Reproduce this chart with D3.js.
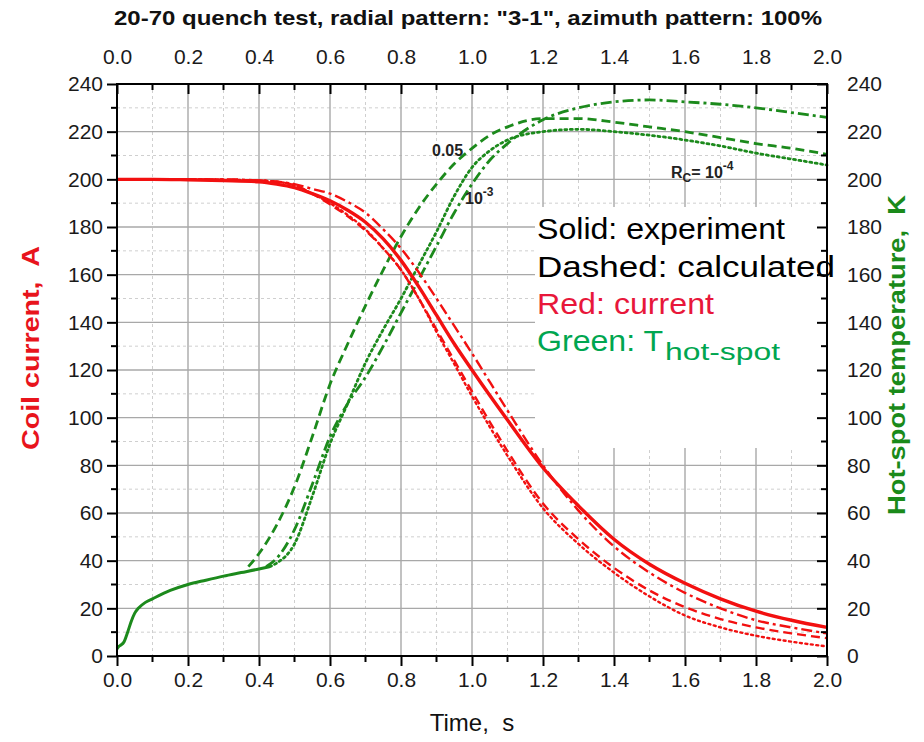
<!DOCTYPE html>
<html>
<head>
<meta charset="utf-8">
<script src="https://cdn.jsdelivr.net/npm/d3@7/dist/d3.min.js"></script>
<style>
  html, body { margin: 0; padding: 0; background: #fff; }
  svg { display: block; font-family: "Liberation Sans", Arial, sans-serif; }
</style>
</head>
<body>
<svg id="chart" width="924" height="742"></svg>
<script>
// ---------------- DATA ----------------
const titleText = '20-70 quench test, radial pattern: "3-1", azimuth pattern: 100%';
const xTicks = [0, 0.2, 0.4, 0.6, 0.8, 1.0, 1.2, 1.4, 1.6, 1.8, 2.0];
const yTicks = [0, 20, 40, 60, 80, 100, 120, 140, 160, 180, 200, 220, 240];

// Coil current (A): time grid shared by the red curves
const tCurrent = [0, 0.1, 0.2, 0.3, 0.4, 0.45, 0.5, 0.55, 0.6, 0.65, 0.7, 0.75, 0.8, 0.85, 0.9, 0.95, 1.0, 1.1, 1.2, 1.3, 1.4, 1.5, 1.6, 1.7, 1.8, 1.9, 2.0];
const currentExp     = [200, 200, 199.8, 199.5, 199, 198, 196.5, 194, 191, 187, 182, 175, 166, 155, 143, 131, 120, 99, 79, 63, 49, 38.5, 30.5, 24, 18.8, 15, 12];
const currentDashDot = [200, 200, 200, 200, 199.5, 199, 198, 196, 194, 190.5, 186, 179, 171, 161, 150, 138.5, 127, 103, 80, 61, 46, 35, 26.5, 20, 15, 12, 9.5];
const currentDashed  = [200, 200, 200, 199.8, 199.5, 199, 197.5, 194, 189.5, 184.5, 178.5, 171, 162, 150, 137, 124, 111, 86, 64, 49, 37, 27.5, 20.5, 15.5, 12, 9.5, 7.5];
const currentDotted  = [200, 200, 200, 199.8, 199.5, 199, 197.5, 194, 190, 185, 179, 171, 162, 150, 136, 122.5, 109, 84, 62, 47, 35, 25, 17, 12, 8.5, 6, 4];

// Hot-spot temperature (K)
const tTempExp = [0, 0.005, 0.01, 0.02, 0.03, 0.04, 0.05, 0.06, 0.08, 0.1, 0.15, 0.2, 0.25, 0.3, 0.35, 0.4, 0.43];
const tempExp  = [3, 4, 4.5, 6, 10, 14.5, 18, 20, 22.5, 24, 27.5, 30, 31.8, 33.5, 35, 36.5, 37.5];

const tTempDashed = [0.37, 0.4, 0.45, 0.5, 0.55, 0.6, 0.65, 0.7, 0.75, 0.8, 0.85, 0.9, 0.95, 1.0, 1.05, 1.1, 1.2, 1.3, 1.4, 1.5, 1.6, 1.7, 1.8, 1.9, 2.0];
const tempDashed  = [37.5, 43, 55, 71, 92, 114, 131, 147, 162, 176, 188, 198, 206.5, 213, 218.5, 222, 225.5, 225.5, 224, 222, 220, 217.5, 215, 213, 210.5];

const tTempDotted = [0.43, 0.45, 0.5, 0.55, 0.6, 0.65, 0.7, 0.75, 0.8, 0.85, 0.9, 0.95, 1.0, 1.05, 1.1, 1.2, 1.3, 1.4, 1.5, 1.6, 1.7, 1.8, 1.9, 2.0];
const tempDotted  = [37.5, 39, 47, 67, 89, 106, 123, 137, 150, 164, 178, 193, 205, 212, 216.5, 220, 221, 220, 218.5, 216.5, 214, 211, 208.5, 206];

const tTempDashDot = [0.42, 0.45, 0.5, 0.55, 0.6, 0.65, 0.7, 0.75, 0.8, 0.85, 0.9, 0.95, 1.0, 1.05, 1.1, 1.2, 1.3, 1.4, 1.5, 1.6, 1.7, 1.8, 1.9, 2.0];
const tempDashDot  = [37.5, 41, 53, 72, 92, 106, 117, 130, 144, 158, 172, 186, 198, 208, 215, 225, 230, 232.5, 233.3, 232.5, 231.5, 230, 228, 226];

// ---------------- LAYOUT ----------------
const svg = d3.select("#chart");
const L = 117, R = 827, T = 84, B = 656;
const x = d3.scaleLinear().domain([0, 2]).range([L, R]);
const yI = d3.scaleLinear().domain([0, 240]).range([B, T]);
const yT = d3.scaleLinear().domain([0, 240]).range([B, T]);

const RED = "#f21010", GREEN = "#1c8a1c";

// grid
const minorX = d3.range(0.1, 2.0, 0.2);
const minorY = d3.range(10, 240, 20);
const grid = svg.append("g");
grid.selectAll(".mx").data(minorX).join("line")
  .attr("x1", d => x(d)).attr("x2", d => x(d)).attr("y1", T).attr("y2", B)
  .attr("stroke", "#cfcfcf").attr("stroke-width", 1).attr("stroke-dasharray", "3,3");
grid.selectAll(".my").data(minorY).join("line")
  .attr("x1", L).attr("x2", R).attr("y1", d => yI(d)).attr("y2", d => yI(d))
  .attr("stroke", "#cfcfcf").attr("stroke-width", 1).attr("stroke-dasharray", "3,3");
grid.selectAll(".Mx").data(xTicks.slice(1, -1)).join("line")
  .attr("x1", d => x(d)).attr("x2", d => x(d)).attr("y1", T).attr("y2", B)
  .attr("stroke", "#a8a8a8").attr("stroke-width", 1.4);
grid.selectAll(".My").data(yTicks.slice(1, -1)).join("line")
  .attr("x1", L).attr("x2", R).attr("y1", d => yI(d)).attr("y2", d => yI(d))
  .attr("stroke", "#a8a8a8").attr("stroke-width", 1.4);

// legend box (white, covers the grid)
svg.append("rect").attr("x", 535).attr("y", 207).attr("width", R - 535).attr("height", 241).attr("fill", "#fff");

// lines
const plot = svg.append("g");
function drawLine(ts, vs, ys, color, dash, width) {
  const pts = ts.map((t, i) => [t, vs[i]]);
  plot.append("path").datum(pts)
    .attr("fill", "none").attr("stroke", color).attr("stroke-width", width)
    .attr("stroke-dasharray", dash).attr("stroke-linecap", dash === "2,3.5" ? "round" : "butt")
    .attr("d", d3.line().x(d => x(d[0])).y(d => ys(d[1])).curve(d3.curveMonotoneX));
}
drawLine(tTempDashed, tempDashed, yT, GREEN, "9,5", 2.8);
drawLine(tTempDotted, tempDotted, yT, GREEN, "2,3.5", 2.8);
drawLine(tTempDashDot, tempDashDot, yT, GREEN, "11,4,3,4", 2.8);
drawLine(tTempExp, tempExp, yT, GREEN, null, 3);

drawLine(tCurrent, currentDashed, yI, RED, "9,5", 2.4);
drawLine(tCurrent, currentDotted, yI, RED, "2,3.5", 2.4);
drawLine(tCurrent, currentDashDot, yI, RED, "11,4,3,4", 2.4);
drawLine(tCurrent, currentExp, yI, RED, null, 3.4);

// axes
const fmt = d3.format(".1f");
const minorXt = d3.range(0.1, 2.0, 0.2);
const axBottom = d3.axisBottom(x).tickValues(xTicks).tickFormat(fmt).tickSize(10).tickPadding(6);
const axTop = d3.axisTop(x).tickValues(xTicks).tickFormat(fmt).tickSize(-10).tickPadding(20);
const axLeft = d3.axisLeft(yI).tickValues(yTicks).tickSize(10).tickPadding(4);
const axRight = d3.axisRight(yT).tickValues(yTicks).tickSize(-10).tickPadding(20);

function styleAxis(g) {
  g.select(".domain").remove();
  g.selectAll(".tick line").attr("stroke", "#000").attr("stroke-width", 2);
  g.selectAll(".tick text").attr("font-size", 21).attr("fill", "#1a1a1a")
    .attr("font-family", "'Liberation Sans', Arial, sans-serif");
}
svg.append("g").attr("transform", `translate(0,${B})`).call(axBottom).call(styleAxis);
svg.append("g").attr("transform", `translate(0,${T})`).call(axTop).call(styleAxis);
svg.append("g").attr("transform", `translate(${L},0)`).call(axLeft).call(styleAxis);
svg.append("g").attr("transform", `translate(${R},0)`).call(axRight).call(styleAxis);

// minor ticks
const mt = svg.append("g").attr("stroke", "#000").attr("stroke-width", 2);
mt.selectAll(".b").data(minorXt).join("line").attr("x1", d => x(d)).attr("x2", d => x(d)).attr("y1", B).attr("y2", B + 6);
mt.selectAll(".t").data(minorXt).join("line").attr("x1", d => x(d)).attr("x2", d => x(d)).attr("y1", T).attr("y2", T + 6);
mt.selectAll(".l").data(minorY).join("line").attr("x1", L - 6).attr("x2", L).attr("y1", d => yI(d)).attr("y2", d => yI(d));
mt.selectAll(".r").data(minorY).join("line").attr("x1", R - 6).attr("x2", R).attr("y1", d => yT(d)).attr("y2", d => yT(d));

// frame
svg.append("rect").attr("x", L).attr("y", T).attr("width", R - L).attr("height", B - T)
  .attr("fill", "none").attr("stroke", "#000").attr("stroke-width", 2);

// title & axis titles
svg.append("text").attr("x", 468).attr("y", 25).attr("text-anchor", "middle")
  .attr("font-size", 21).attr("font-weight", "bold").attr("fill", "#111")
  .attr("textLength", 708).attr("lengthAdjust", "spacingAndGlyphs").text(titleText);
svg.append("text").attr("x", 472).attr("y", 731).attr("text-anchor", "middle")
  .attr("font-size", 24).attr("fill", "#111").text("Time,\u00A0 s");
svg.append("text").attr("transform", "translate(39,348) rotate(-90)").attr("text-anchor", "middle")
  .attr("font-size", 24).attr("font-weight", "bold").attr("fill", "#e8141c")
  .attr("textLength", 204).attr("lengthAdjust", "spacingAndGlyphs").text("Coil current,\u00A0 A");
svg.append("text").attr("transform", "translate(905,355) rotate(-90)").attr("text-anchor", "middle")
  .attr("font-size", 24).attr("font-weight", "bold").attr("fill", "#1a8a1a")
  .attr("textLength", 320).attr("lengthAdjust", "spacingAndGlyphs").text("Hot-spot temperature,\u00A0 K");

// legend text
const lg = svg.append("g").attr("font-size", 30);
lg.append("text").attr("x", 537).attr("y", 239).attr("fill", "#000")
  .attr("textLength", 248).attr("lengthAdjust", "spacingAndGlyphs").text("Solid: experiment");
lg.append("text").attr("x", 537).attr("y", 277).attr("fill", "#000")
  .attr("textLength", 298).attr("lengthAdjust", "spacingAndGlyphs").text("Dashed: calculated");
lg.append("text").attr("x", 537).attr("y", 314).attr("fill", "#e8173a")
  .attr("textLength", 177).attr("lengthAdjust", "spacingAndGlyphs").text("Red: current");
lg.append("text").attr("x", 537).attr("y", 351).attr("fill", "#00a650")
  .attr("textLength", 126).attr("lengthAdjust", "spacingAndGlyphs").text("Green: T");
lg.append("text").attr("x", 665).attr("y", 360).attr("fill", "#00a650").attr("font-size", 23)
  .attr("textLength", 115).attr("lengthAdjust", "spacingAndGlyphs").text("hot-spot");

// annotations
const an = svg.append("g").attr("font-size", 16).attr("font-weight", "bold").attr("fill", "#222");
an.append("text").attr("x", 432).attr("y", 156).text("0.05");
const a2 = an.append("text").attr("x", 465).attr("y", 204);
a2.append("tspan").text("10");
a2.append("tspan").attr("dy", -8).attr("font-size", 12).text("-3");
const a3 = an.append("text").attr("x", 671).attr("y", 178);
a3.append("tspan").text("R");
a3.append("tspan").attr("dy", 4).attr("font-size", 12).text("C");
a3.append("tspan").attr("dy", -4).text("= 10");
a3.append("tspan").attr("dy", -8).attr("font-size", 12).text("-4");
</script>
</body>
</html>
